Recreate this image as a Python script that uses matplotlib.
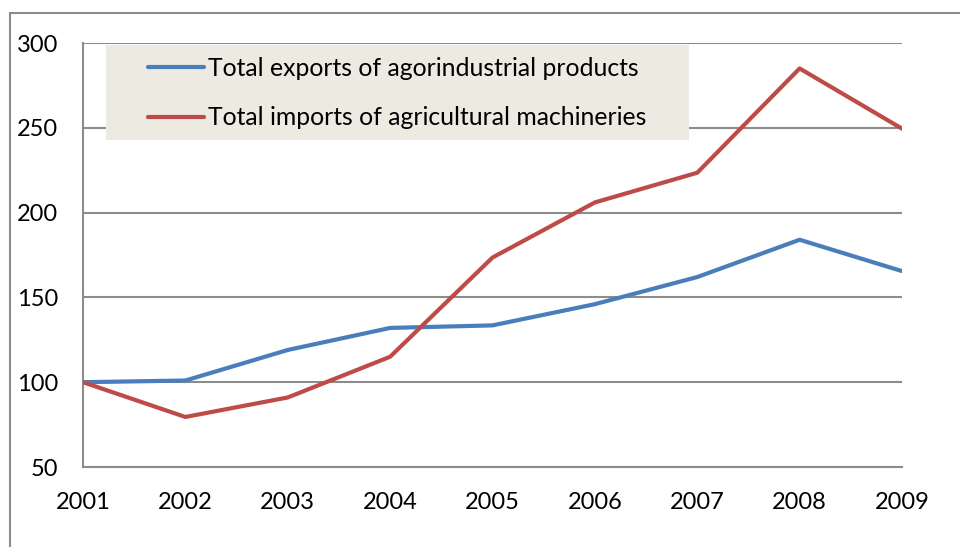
import matplotlib
matplotlib.use("Agg")
import matplotlib.pyplot as plt
from matplotlib.patches import Rectangle

# Index values
years = [2001, 2002, 2003, 2004, 2005, 2006, 2007, 2008, 2009]
exports = [100, 101, 119, 132, 133.5, 146, 162, 184, 165.5]
imports = [100, 79.5, 91, 115, 173.5, 206, 223.5, 285, 249.5]
labels = ["Total exports of agorindustrial products",
          "Total imports of agricultural machineries"]

plt.rcParams['font.family'] = ['Lato', 'DejaVu Sans']

W, H = 960, 547
fig = plt.figure(figsize=(W / 100, H / 100), dpi=100)

# outer chart frame
fig.patches.append(Rectangle((10 / W, -0.1), 1.2, 1.1 - 13 / H, transform=fig.transFigure,
                             fill=False, edgecolor='#8c8c8c', linewidth=1.5))

ax = fig.add_axes([83 / W, (H - 467) / H, (902 - 83) / W, (467 - 43) / H])
ax.plot(years, exports, color='#4A7EBB', linewidth=3, label=labels[0], solid_capstyle='round', zorder=3)
ax.plot(years, imports, color='#BE4B48', linewidth=3, label=labels[1], solid_capstyle='round', zorder=3)

ax.set_xlim(2001, 2009)
ax.set_ylim(50, 300)
ax.set_xticks(years)
ax.set_yticks([50, 100, 150, 200, 250, 300])
ax.yaxis.grid(True, color='#8c8c8c', linewidth=1.5)
ax.set_axisbelow(True)
for s in ['top', 'right']:
    ax.spines[s].set_visible(False)
for s in ['left', 'bottom']:
    ax.spines[s].set_color('#8c8c8c')
    ax.spines[s].set_linewidth(1.5)
ax.tick_params(length=0, labelsize=17, colors='black')
ax.tick_params(axis='y', pad=18)
ax.tick_params(axis='x', pad=18)

# legend box
box = Rectangle((106 / W, 1 - 140 / H), (689 - 106) / W, 95 / H, transform=fig.transFigure,
                facecolor='#EDEAE1', edgecolor='none', zorder=4, clip_on=False)
ax.add_patch(box)
leg = ax.legend(loc='upper left', bbox_to_anchor=(148 / W, 1 - 57 / H), bbox_transform=fig.transFigure,
                frameon=False, fontsize=17.8, borderpad=0, borderaxespad=0,
                handlelength=2.27, handletextpad=0.16, labelspacing=1.07)
leg.set_zorder(5)

fig.savefig("out.png", dpi=100)
